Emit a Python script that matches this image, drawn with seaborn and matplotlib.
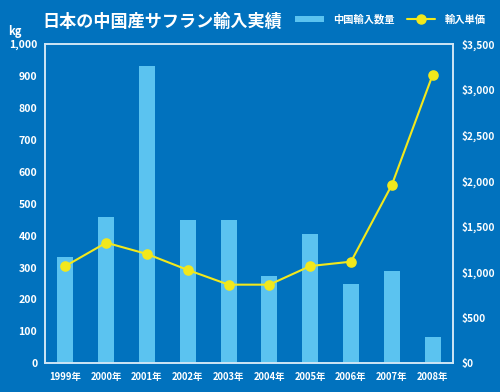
import matplotlib
matplotlib.use("Agg")
import matplotlib.pyplot as plt
import seaborn as sns
import pandas as pd
from matplotlib.patches import Patch
from matplotlib.lines import Line2D
from matplotlib.ticker import FuncFormatter, MultipleLocator

years = ["1999年", "2000年", "2001年", "2002年", "2003年", "2004年", "2005年", "2006年", "2007年", "2008年"]
volume_kg = [333, 457, 932, 449, 450, 273, 404, 249, 290, 81]
unit_price = [1066, 1322, 1198, 1023, 862, 862, 1066, 1114, 1954, 3160]
title = "日本の中国産サフラン輸入実績"
bar_label = "中国輸入数量"
line_label = "輸入単価"

BG = "#0172BE"
BAR = "#5BC3F0"
YEL = "#F2E81C"
FRAME = "#CFE6F5"
FONT = ["Noto Sans CJK JP", "DejaVu Sans"]

sns.set_theme(style="white")
plt.rcParams["font.family"] = FONT
plt.rcParams["font.weight"] = "bold"

df = pd.DataFrame({"year": years, "kg": volume_kg, "price": unit_price})

fig = plt.figure(figsize=(5, 3.92), dpi=100, facecolor=BG)
ax = fig.add_axes([0.09, 0.0732, 0.816, 0.8146])
ax.set_facecolor(BG)
sns.barplot(data=df, x="year", y="kg", color=BAR, saturation=1, width=0.39, ax=ax,
            zorder=2, edgecolor="none", linewidth=0)
ax.set_ylim(0, 1000)
ax.set_xlim(-0.5, 9.5)
ax.yaxis.set_major_locator(MultipleLocator(100))
ax.yaxis.set_major_formatter(FuncFormatter(lambda v, p: f"{int(v):,}"))
ax.set_xlabel("")
ax.set_ylabel("")

ax2 = ax.twinx()
sns.pointplot(data=df, x="year", y="price", color=YEL, markers="o", ax=ax2,
              linewidth=1.5, markersize=6.5, zorder=3)
ax2.set_ylim(0, 3500)
ax2.set_xlim(-0.5, 9.5)
ax2.yaxis.set_major_locator(MultipleLocator(500))
ax2.yaxis.set_major_formatter(FuncFormatter(lambda v, p: f"${int(v):,}"))
ax2.set_ylabel("")
ax2.set_xlabel("")

for a in (ax, ax2):
    for s in a.spines.values():
        s.set_color(FRAME)
        s.set_linewidth(1.2)
    a.tick_params(length=0, colors="white")
ax.tick_params(axis="y", labelsize=7.6, pad=5.5)
ax.tick_params(axis="x", labelsize=6.8, pad=6)
ax2.tick_params(axis="y", labelsize=7.3, pad=6)
for lbl in ax.get_yticklabels() + ax2.get_yticklabels() + ax.get_xticklabels():
    lbl.set_fontweight("bold")
    lbl.set_color("white")

fig.text(0.084, 0.945, title, color="white", fontsize=12.3, fontweight="bold",
         ha="left", va="center")
fig.text(0.016, 0.92, "kg", color="white", fontsize=8, fontweight="bold",
         ha="left", va="center")

handles = [Patch(facecolor=BAR, edgecolor="none"),
           Line2D([0], [0], color=YEL, lw=1.5, marker="o", markersize=6.5)]
leg = fig.legend(handles, [bar_label, line_label], loc="center right",
                 bbox_to_anchor=(0.99, 0.95), ncol=2, frameon=False,
                 fontsize=7.4, handlelength=2.8, handleheight=0.5,
                 columnspacing=1.2, handletextpad=0.9)
for t in leg.get_texts():
    t.set_color("white")
    t.set_fontweight("bold")

fig.savefig("out.png", dpi=100, facecolor=BG)
